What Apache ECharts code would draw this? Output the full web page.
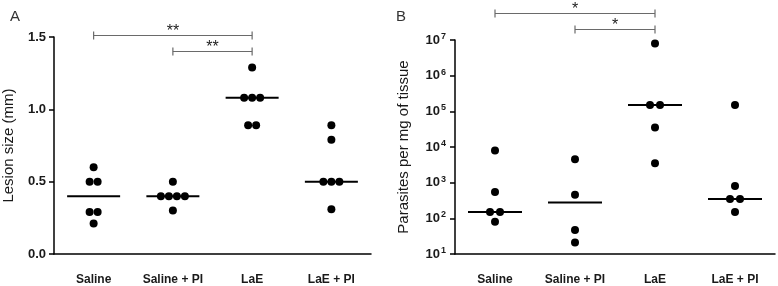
<!DOCTYPE html>
<html>
<head>
<meta charset="utf-8">
<script src="https://cdn.jsdelivr.net/npm/echarts@6/dist/echarts.min.js"></script>
<style>html,body{margin:0;padding:0;background:#fff;}#c{width:778px;height:286px;}</style>
</head>
<body>
<div id="c"></div>
<script>
// ---- data ----
const categories = ['Saline', 'Saline + PI', 'LaE', 'LaE + PI'];

// Panel A: lesion size (mm)
const lesionSaline   = [0.6, 0.5, 0.5, 0.29, 0.29, 0.21];
const lesionSalinePI = [0.5, 0.4, 0.4, 0.4, 0.4, 0.3];
const lesionLaE      = [1.29, 1.08, 1.08, 1.08, 0.89, 0.89];
const lesionLaEPI    = [0.89, 0.79, 0.5, 0.5, 0.5, 0.31];
const lesionMedian   = [0.4, 0.4, 1.08, 0.5];

// Panel B: parasites per mg of tissue
const parSaline   = [8000, 550, 150, 150, 80];
const parSalinePI = [4500, 460, 47, 21];
const parLaE      = [8000000, 150000, 150000, 35000, 3500];
const parLaEPI    = [150000, 800, 350, 350, 150];
const parMedian   = [150, 280, 150000, 350];

// significance brackets: [fromCategory, toCategory, level, label]
const sigA = [[0, 2, 1.516, '**'], [1, 2, 1.40, '**']];
const sigB = [[0, 2, 5.8e7, '*'], [1, 2, 2.07e7, '*']];

// ---- build ----
const TXT = '#1a1a1a';
const FONT = 'Liberation Sans, Arial';
function dots(groups, spacing) {
  const out = [];
  groups.forEach((g, ci) => {
    g.forEach((v, i) => {
      const same = g.map((w, j) => [w, j]).filter(p => p[0] === v);
      const n = same.length;
      const k = same.findIndex(p => p[1] === i);
      out.push({ value: [ci, v], symbolOffset: [(k - (n - 1) / 2) * spacing, 0] });
    });
  });
  return out;
}
function bracketSeries(xi, yi, data, starSize) {
  return {
    type: 'custom', xAxisIndex: xi, yAxisIndex: yi, silent: true, clip: false,
    encode: { x: [0, 1], y: 2 },
    data: data,
    renderItem: function (params, api) {
      const a = api.coord([api.value(0), api.value(2)]);
      const b = api.coord([api.value(1), api.value(2)]);
      const y = Math.round(a[1]) + 0.5;
      const st = { stroke: '#6a6a6a', lineWidth: 1.2, fill: null };
      return {
        type: 'group',
        children: [
          { type: 'line', shape: { x1: a[0], y1: y, x2: b[0], y2: y }, style: st },
          { type: 'line', shape: { x1: a[0], y1: y - 4, x2: a[0], y2: y + 4 }, style: st },
          { type: 'line', shape: { x1: b[0], y1: y - 4, x2: b[0], y2: y + 4 }, style: st },
          { type: 'text', x: (a[0] + b[0]) / 2, y: y - 4,
            style: { text: data[params.dataIndex][3], textAlign: 'center', textVerticalAlign: 'middle',
                     fontSize: starSize, fontFamily: FONT, fill: '#222' } }
        ]
      };
    }
  };
}
const catAxis = (gi) => ({
  type: 'category', gridIndex: gi, data: categories, boundaryGap: true,
  axisLine: { lineStyle: { color: '#000', width: 1.5 } },
  axisTick: { alignWithLabel: true, length: 5, lineStyle: { color: '#000', width: 1.5 } },
  axisLabel: { color: TXT, fontSize: 12, fontWeight: 'bold', fontFamily: FONT, margin: 20 },
  splitLine: { show: false }
});
const dotStyle = { color: '#000', opacity: 1 };

const chart = echarts.init(document.getElementById('c'), null, { renderer: 'canvas' });
chart.setOption({
  animation: false,
  backgroundColor: '#fff',
  title: [
    { text: 'A', left: 5, top: 4, textStyle: { fontSize: 15, fontWeight: 'normal', color: '#333', fontFamily: FONT } },
    { text: 'B', left: 391, top: 4, textStyle: { fontSize: 15, fontWeight: 'normal', color: '#333', fontFamily: FONT } }
  ],
  grid: [
    { left: 51, top: 37, width: 320, height: 218 },
    { left: 455, top: 40, width: 320, height: 215 }
  ],
  xAxis: [catAxis(0), catAxis(1)],
  yAxis: [
    {
      type: 'value', gridIndex: 0, min: 0, max: 1.5, interval: 0.5,
      name: 'Lesion size (mm)', nameLocation: 'middle', nameGap: 38,
      nameTextStyle: { fontSize: 15, color: TXT, fontFamily: FONT },
      axisLine: { show: true, lineStyle: { color: '#000', width: 1.5 } },
      axisTick: { show: true, length: 5, lineStyle: { color: '#000', width: 1.5 } },
      axisLabel: { color: TXT, fontSize: 13, fontWeight: 'bold', fontFamily: FONT, margin: 8,
                   formatter: v => v.toFixed(1) },
      splitLine: { show: false }
    },
    {
      type: 'log', gridIndex: 1, logBase: 10, min: 10, max: 1e7,
      name: 'Parasites per mg of tissue', nameLocation: 'middle', nameGap: 44,
      nameTextStyle: { fontSize: 15, color: TXT, fontFamily: FONT },
      axisLine: { show: true, lineStyle: { color: '#000', width: 1.5 } },
      axisTick: { show: true, length: 5, lineStyle: { color: '#000', width: 1.5 } },
      minorTick: { show: false },
      axisLabel: {
        margin: 9,
        formatter: v => '{b|10}{s|' + Math.round(Math.log10(v)) + '}',
        rich: {
          b: { fontSize: 13, fontWeight: 'bold', color: TXT, fontFamily: FONT },
          s: { fontSize: 9, fontWeight: 'bold', color: TXT, fontFamily: FONT, padding: [0, 0, 7, 1] }
        }
      },
      splitLine: { show: false }
    }
  ],
  series: [
    { type: 'scatter', xAxisIndex: 0, yAxisIndex: 0, symbol: 'rect', symbolSize: [53, 2],
      itemStyle: dotStyle, data: lesionMedian.map((v, i) => [i, v]), z: 2 },
    { type: 'scatter', xAxisIndex: 0, yAxisIndex: 0, symbolSize: 8, itemStyle: dotStyle,
      data: dots([lesionSaline, lesionSalinePI, lesionLaE, lesionLaEPI], 8), z: 3 },
    bracketSeries(0, 0, sigA, 16),
    { type: 'scatter', xAxisIndex: 1, yAxisIndex: 1, symbol: 'rect', symbolSize: [54, 2],
      itemStyle: dotStyle, data: parMedian.map((v, i) => [i, v]), z: 2 },
    { type: 'scatter', xAxisIndex: 1, yAxisIndex: 1, symbolSize: 8, itemStyle: dotStyle,
      data: dots([parSaline, parSalinePI, parLaE, parLaEPI], 10), z: 3 },
    bracketSeries(1, 1, sigB, 16)
  ]
});
</script>
</body>
</html>
